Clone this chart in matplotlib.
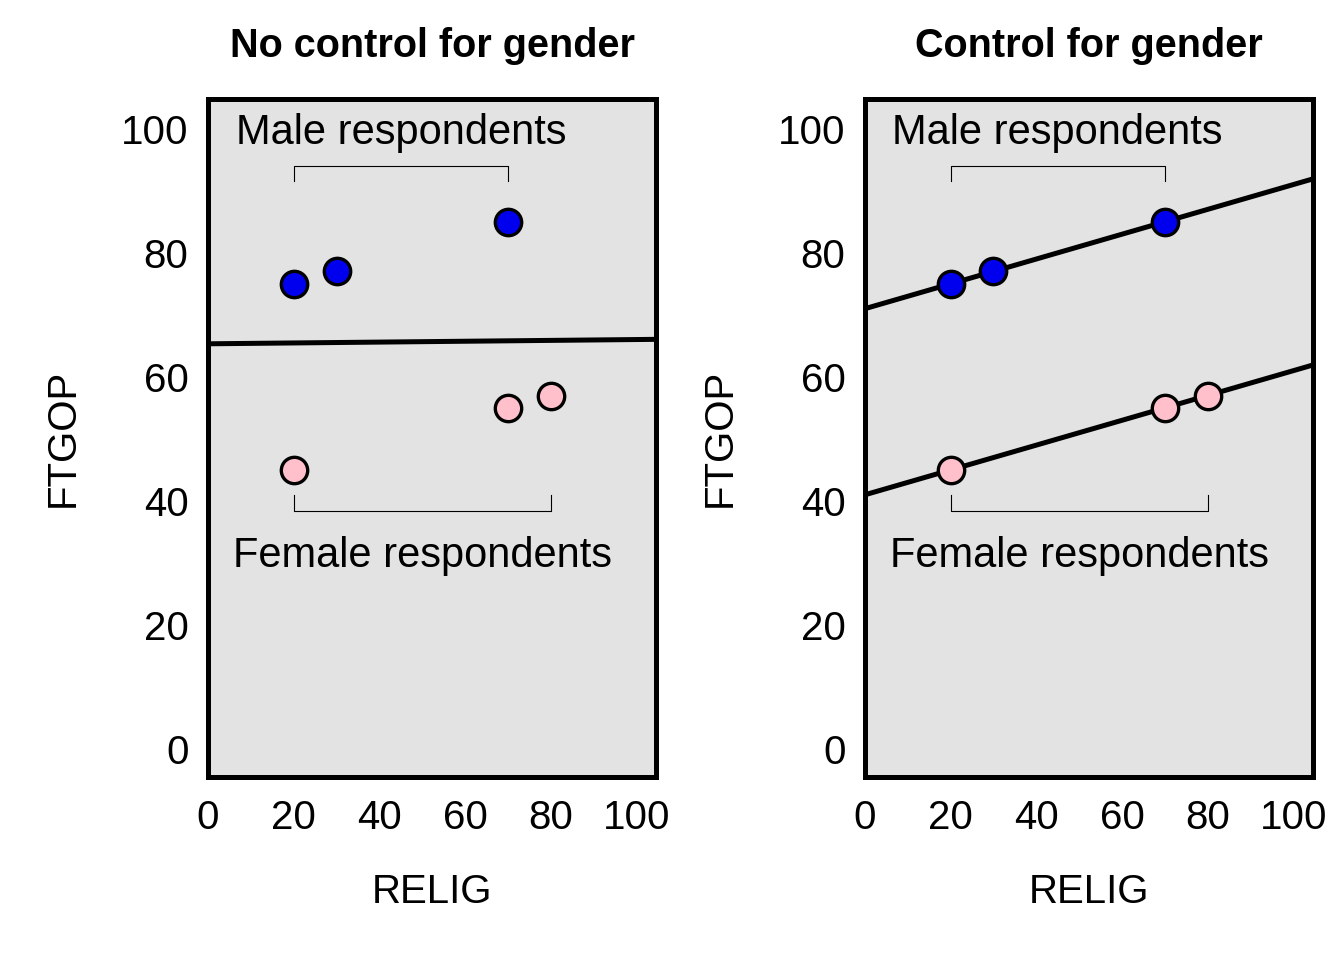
import numpy as np
import matplotlib.pyplot as plt

plt.rcParams['font.family'] = ['Liberation Sans', 'DejaVu Sans']

# data
male_relig = [20, 30, 70]
male_ftgop = [75, 77, 85]
female_relig = [20, 70, 80]
female_ftgop = [45, 55, 57]

titles = ['No control for gender', 'Control for gender']
ticks = [0, 20, 40, 60, 80, 100]

x_all = np.array(male_relig + female_relig, dtype=float)
y_all = np.array(male_ftgop + female_ftgop, dtype=float)
is_male = np.array([1] * len(male_relig) + [0] * len(female_relig), dtype=float)

# pooled fit (no control)
b_pool, a_pool = np.polyfit(x_all, y_all, 1)
# fit with gender dummy (parallel lines)
X = np.column_stack([np.ones_like(x_all), x_all, is_male])
coef, *_ = np.linalg.lstsq(X, y_all, rcond=None)
a_f, b_c, d_m = coef

fig = plt.figure(figsize=(13.44, 9.6), dpi=100)
positions = [[0.1548, 0.1906, 0.3333, 0.7063], [0.6436, 0.1906, 0.3333, 0.7063]]
xx = np.array([0, 110])

for i, pos in enumerate(positions):
    ax = fig.add_axes(pos)
    ax.set_facecolor('#e3e3e3')
    ax.set_xlim(0, 104.6)
    ax.set_ylim(-4.5, 104.8)
    for s in ax.spines.values():
        s.set_linewidth(3.6)
        s.set_color('black')
    ax.set_xticks(ticks)
    ax.set_yticks(ticks)
    ax.tick_params(axis='x', length=0, labelsize=29, pad=16)
    ax.tick_params(axis='y', length=0, labelsize=29, pad=14)
    ax.set_xlabel('RELIG', fontsize=29, labelpad=26)
    ax.set_ylabel('FTGOP', fontsize=29, labelpad=28)
    ax.set_title(titles[i], fontsize=28.5, fontweight='bold', pad=30)

    if i == 0:
        ax.plot(xx, a_pool + b_pool * xx, color='black', lw=3.6, zorder=2)
    else:
        ax.plot(xx, a_f + d_m + b_c * xx, color='black', lw=3.6, zorder=2)
        ax.plot(xx, a_f + b_c * xx, color='black', lw=3.6, zorder=2)

    ax.plot(male_relig, male_ftgop, 'o', ms=19, mfc='#0000ee', mec='black', mew=2.4, zorder=3)
    ax.plot(female_relig, female_ftgop, 'o', ms=19, mfc='#ffc0cb', mec='black', mew=2.4, zorder=3)

    # brackets
    mx0, mx1 = min(male_relig), max(male_relig)
    ax.plot([mx0, mx0, mx1, mx1], [91.6, 94, 94, 91.6], color='black', lw=0.8)
    ax.text((mx0 + mx1) / 2, 99.3, 'Male respondents', fontsize=30, ha='center', va='center')
    fx0, fx1 = min(female_relig), max(female_relig)
    ax.plot([fx0, fx0, fx1, fx1], [41, 38.4, 38.4, 41], color='black', lw=0.8)
    ax.text((fx0 + fx1) / 2, 31.2, 'Female respondents', fontsize=30, ha='center', va='center')

fig.savefig('out.png', dpi=100)
